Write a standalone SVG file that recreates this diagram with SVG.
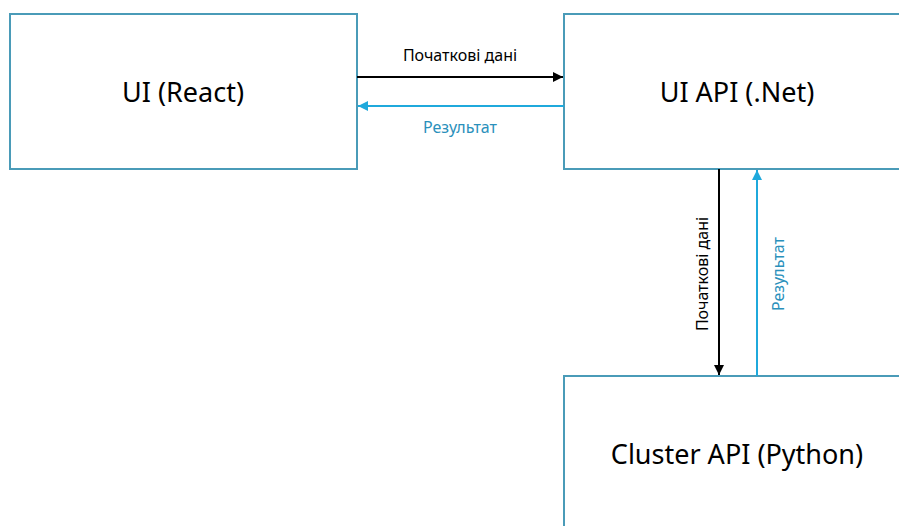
<svg xmlns="http://www.w3.org/2000/svg" width="899" height="526" viewBox="0 0 899 526">
<style>
.box{fill:#fff;stroke:#4a9bb8;stroke-width:2}
.t{font-family:"Noto Sans","DejaVu Sans",sans-serif;font-size:27px;fill:#000;text-anchor:middle;dominant-baseline:central}
.l{font-family:"Noto Sans","DejaVu Sans",sans-serif;font-size:16px;text-anchor:middle}
.blk{stroke:#000;stroke-width:2;fill:none}
.cy{stroke:#1fa9dc;stroke-width:2;fill:none}
</style>
<defs>
<marker id="ab" viewBox="0 0 10 10" refX="10" refY="5" markerWidth="5" markerHeight="5" orient="auto"><path d="M0,0L10,5L0,10z" fill="#000"/></marker>
<marker id="ac" viewBox="0 0 10 10" refX="10" refY="5" markerWidth="5" markerHeight="5" orient="auto"><path d="M0,0L10,5L0,10z" fill="#1fa9dc"/></marker>
</defs>
<rect width="899" height="526" fill="#fff"/>
<g id="ui-react"><rect class="box" x="10" y="14" width="347" height="155"/><text class="t" x="183" y="91">UI (React)</text></g>
<g id="ui-api"><rect class="box" x="564" y="14" width="347" height="155"/><text class="t" x="737" y="91">UI API (.Net)</text></g>
<g id="cluster-api"><rect class="box" x="564" y="376" width="347" height="160"/><text class="t" x="737" y="453">Cluster API (Python)</text></g>
<g id="connectors">
<line class="blk" x1="357" y1="77" x2="563" y2="77" marker-end="url(#ab)"/>
<text class="l" x="460" y="61" fill="#000">Початкові дані</text>
<line class="cy" x1="564" y1="106" x2="358" y2="106" marker-end="url(#ac)"/>
<text class="l" x="460" y="133" fill="#2a90bb">Результат</text>
<line class="blk" x1="719" y1="169" x2="719" y2="375" marker-end="url(#ab)"/>
<text class="l" transform="translate(708,274) rotate(-90)" fill="#000">Початкові дані</text>
<line class="cy" x1="757" y1="376" x2="757" y2="170" marker-end="url(#ac)"/>
<text class="l" transform="translate(784,274) rotate(-90)" fill="#2a90bb">Результат</text>
</g>
</svg>
